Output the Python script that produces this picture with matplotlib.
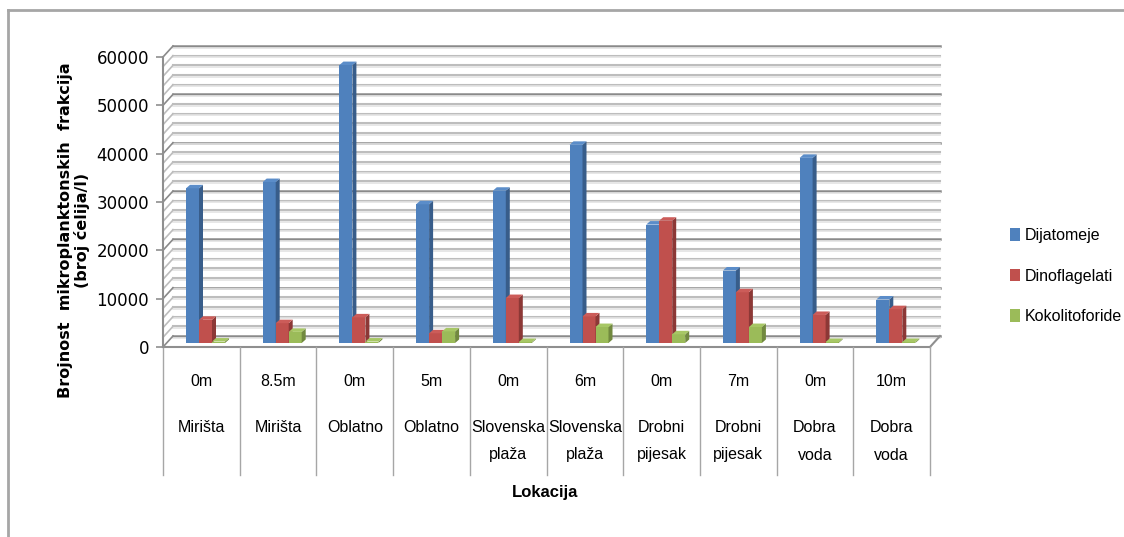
import matplotlib
matplotlib.use("Agg")
import matplotlib.pyplot as plt
from matplotlib.patches import Polygon, Patch
from matplotlib.lines import Line2D
from matplotlib import font_manager

# data
depths = ['0m', '8.5m', '0m', '5m', '0m', '6m', '0m', '7m', '0m', '10m']
sites = ['Mirišta', 'Mirišta', 'Oblatno', 'Oblatno', 'Slovenska\nplaža', 'Slovenska\nplaža',
         'Drobni\npijesak', 'Drobni\npijesak', 'Dobra\nvoda', 'Dobra\nvoda']
series_names = ['Dijatomeje', 'Dinoflagelati', 'Kokolitoforide']
dijatomeje = [32000, 33300, 57500, 28700, 31500, 41000, 24500, 15000, 38300, 9000]
dinoflagelati = [4800, 4100, 5300, 2000, 9300, 5500, 25300, 10500, 5800, 7000]
kokolitoforide = [300, 2300, 300, 2400, 200, 3300, 1800, 3300, 200, 200]

front = ['#4F81BD', '#C0504D', '#9BBB59']
side = ['#385D8A', '#8C3836', '#71893F']
topc = ['#5B8DC9', '#CC5C59', '#A7C765']

names = {f.name for f in font_manager.fontManager.ttflist}
if 'Liberation Sans Narrow' in names:
    narrow, nsize = 'Liberation Sans Narrow', 12.5
else:
    narrow, nsize = 'Liberation Sans', 11.5

W, H = 1124, 537
fig = plt.figure(figsize=(W / 100, H / 100), dpi=100)
# front plane of the 3d box in pixels
L, R, B, T = 163, 930, 347, 57
ax = fig.add_axes([L / W, 1 - B / H, (R - L) / W, (B - T) / H])
ax.set_xlim(0, 10)
ax.set_ylim(0, 60000)

ux = (R - L) / 10.0          # px per category
uy = (B - T) / 60000.0       # px per unit
wall_dx, wall_dy = 10 / ux, 11 / uy
bar_dx, bar_dy = 4 / ux, 3.5 / uy
base = 4 / uy
bw = 13 / ux
first = 23 / ux

# walls and gridlines
for v in range(0, 60001, 2000):
    major = v % 10000 == 0
    c = '#8a8a8a' if major else '#bdbdbd'
    lw = 1.8 if major else 1.5
    ax.plot([wall_dx, 10 + wall_dx], [v + wall_dy, v + wall_dy], color=c, lw=lw, clip_on=False, zorder=1)
    ax.plot([wall_dx, 10 + wall_dx], [v + wall_dy - 1.6 / uy] * 2, color='#e3e3e3', lw=1.2, clip_on=False, zorder=1)
    ax.plot([0, wall_dx], [v, v + wall_dy], color=c, lw=1.2, clip_on=False, zorder=1)
ax.plot([10, 10 + wall_dx], [0, wall_dy], color='#8f8f8f', lw=1.5, clip_on=False, zorder=1)
ax.plot([0, 10], [0, 0], color='#8f8f8f', lw=1.5, clip_on=False, zorder=2)

# bars
for s, vals in enumerate([dijatomeje, dinoflagelati, kokolitoforide]):
    for i, v in enumerate(vals):
        x0 = i + first + s * bw
        ax.bar(x0, v, width=bw, bottom=base, align='edge', color=front[s], lw=0, zorder=3 + s)
        y1 = base + v
        ax.add_patch(Polygon([(x0 + bw, base), (x0 + bw + bar_dx, base + bar_dy),
                              (x0 + bw + bar_dx, y1 + bar_dy), (x0 + bw, y1)],
                             closed=True, color=side[s], lw=0, zorder=3 + s))
        ax.add_patch(Polygon([(x0, y1), (x0 + bw, y1), (x0 + bw + bar_dx, y1 + bar_dy),
                              (x0 + bar_dx, y1 + bar_dy)],
                             closed=True, color=topc[s], lw=0, zorder=3 + s))

# axes styling
for sp in ['top', 'right', 'bottom']:
    ax.spines[sp].set_visible(False)
ax.spines['left'].set_color('#8f8f8f')
ax.spines['left'].set_linewidth(1.5)
ax.set_yticks(range(0, 60001, 10000))
ax.tick_params(axis='y', length=5, width=1.2, color='#8f8f8f', labelsize=12, pad=5)
ax.set_xticks([])

# category table below the axis
tr = ax.get_xaxis_transform()
for k in range(11):
    ax.plot([k, k], [0, -128 / (B - T)], color='#a6a6a6', lw=1, transform=tr, clip_on=False)
for i in range(10):
    ax.text(i + 0.5, -35 / (B - T), depths[i], transform=tr, ha='center', va='center',
            fontsize=nsize, family=narrow)
    for j, line in enumerate(sites[i].split('\n')):
        ax.text(i + 0.5, -(81 + 27 * j) / (B - T), line, transform=tr, ha='center', va='center',
                fontsize=nsize, family=narrow)

fig.text(545 / W, 1 - 493 / H, 'Lokacija', ha='center', va='center', fontsize=nsize + 0.5,
         fontweight='bold', family=narrow)
fig.text(74 / W, 1 - 230 / H, 'Brojnost  mikroplanktonskih  frakcija\n(broj ćelija/l)',
         rotation=90, ha='center', va='center', fontsize=11.5, fontweight='bold',
         multialignment='center', linespacing=1.0)

handles = [Patch(facecolor=c, edgecolor='none') for c in front]
fig.legend(handles, series_names, loc='center left', bbox_to_anchor=(996 / W, 1 - 276 / H),
           frameon=False, handlelength=0.6, handleheight=0.8, handletextpad=0.3,
           labelspacing=1.6, prop={'family': narrow, 'size': nsize})

# outer frame (only top and left visible)
fig.add_artist(Line2D([7.5 / W, 7.5 / W], [0, 1 - 10 / H], color='#a6a6a6', lw=2))
fig.add_artist(Line2D([7.5 / W, 1], [1 - 10 / H, 1 - 10 / H], color='#a6a6a6', lw=2))

fig.savefig('out.png', dpi=100)
